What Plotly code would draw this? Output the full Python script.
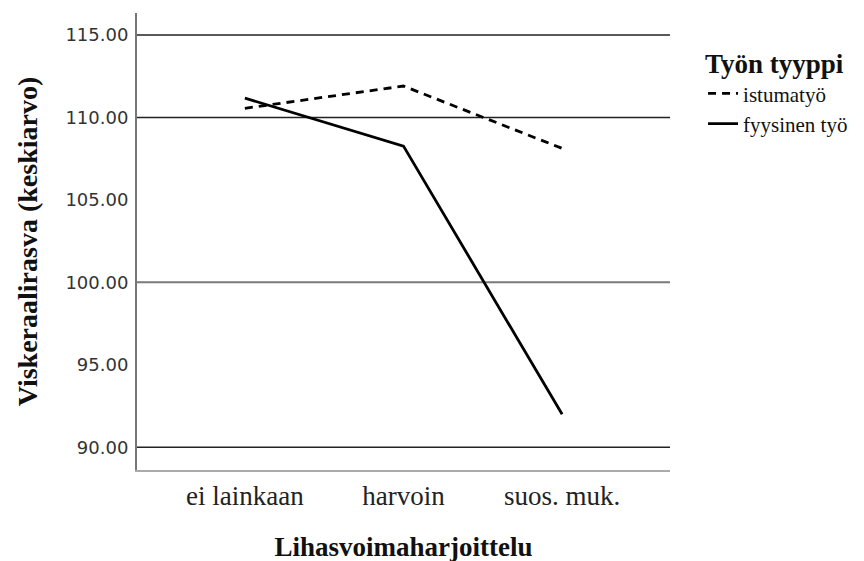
import plotly.graph_objects as go

categories = ["ei lainkaan", "harvoin", "suos. muk."]
istumatyo = [110.55, 111.9, 108.12]
fyysinen = [111.17, 108.26, 92.0]
y_ticks = [90, 95, 100, 105, 110, 115]
y_tick_text = ["90.00", "95.00", "100.00", "105.00", "110.00", "115.00"]
grid_dark = [90, 110, 115]
grid_light = [100]

fig = go.Figure()
fig.add_trace(go.Scatter(x=[0, 1, 2], y=istumatyo, mode="lines", name="istumatyö",
                         line=dict(color="black", width=2.8, dash="8px,6px")))
fig.add_trace(go.Scatter(x=[0, 1, 2], y=fyysinen, mode="lines", name="fyysinen työ",
                         line=dict(color="black", width=2.8)))

shapes = []
for v in grid_dark:
    shapes.append(dict(type="line", xref="paper", yref="y", x0=0, x1=1, y0=v, y1=v,
                       line=dict(color="#222222", width=1.5), layer="below"))
for v in grid_light:
    shapes.append(dict(type="line", xref="paper", yref="y", x0=0, x1=1, y0=v, y1=v,
                       line=dict(color="#7a7a7a", width=2), layer="below"))

fig.update_layout(
    width=864, height=561,
    margin=dict(l=129, r=202, t=5, b=99, autoexpand=False),
    paper_bgcolor="white", plot_bgcolor="white",
    shapes=shapes,
    xaxis=dict(range=[-0.68, 2.68], tickmode="array", tickvals=[0, 1, 2], ticktext=categories,
               showgrid=False, zeroline=False, showline=True, linecolor="#aaaaaa", linewidth=2,
               ticks="", ticklabelstandoff=1,
               tickfont=dict(family="Liberation Serif", size=27, color="#222"),
               title=dict(text="<b>Lihasvoimaharjoittelu</b>", standoff=27,
                          font=dict(family="Liberation Serif", size=27, color="#111"))),
    yaxis=dict(range=[88.62, 116.33], tickmode="array", tickvals=y_ticks, ticktext=y_tick_text,
               showgrid=False, zeroline=False, showline=True, linecolor="#777777", linewidth=2,
               ticks="", ticklabelstandoff=3,
               tickfont=dict(family="DejaVu Sans", size=18, color="#333"),
               title=dict(text="<b>Viskeraalirasva (keskiarvo)</b>", standoff=20,
                          font=dict(family="Liberation Serif", size=28, color="#111"))),
    legend=dict(x=1.062, y=0.945, xanchor="left", yanchor="top",
                title=dict(text="<b>Työn tyyppi</b>", side="top",
                           font=dict(family="Liberation Serif", size=27, color="#111")),
                font=dict(family="Liberation Serif", size=21, color="#111"),
                tracegroupgap=0, itemwidth=30),
    showlegend=True,
)

fig.write_html("out.html")
